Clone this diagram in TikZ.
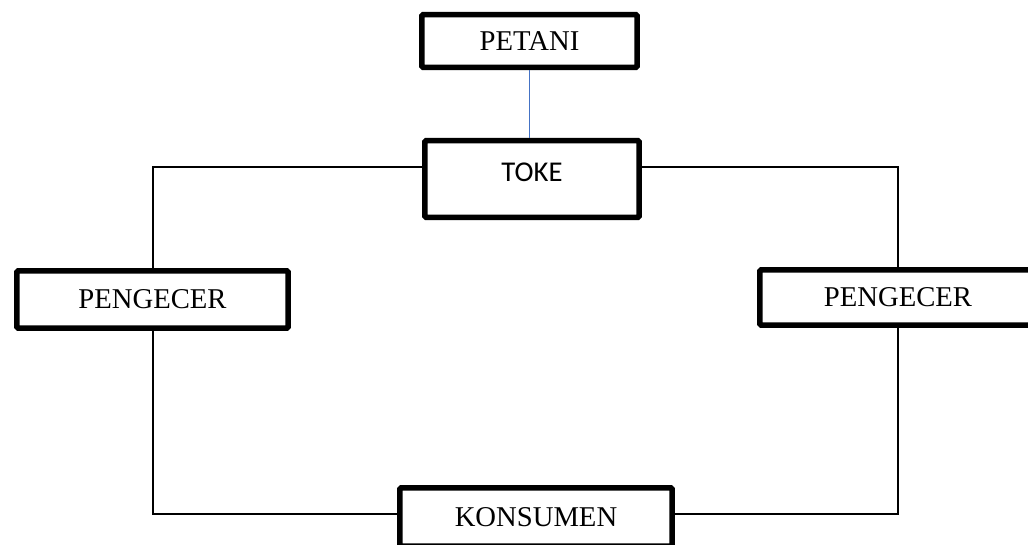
\documentclass[tikz,border=0pt]{standalone}
\usepackage{fontspec}
\setmainfont{Liberation Serif}
\newfontfamily\calibri{Carlito}
\usetikzlibrary{calc}
\definecolor{wordblue}{RGB}{68,114,196}

\begin{document}
\begin{tikzpicture}[
                x=0.75pt,y=-0.75pt,
                box/.style={draw,line width=4.2pt,rounded corners=1pt,inner sep=0pt,font=\fontsize{21.5}{24}\selectfont},
                link/.style={line width=1.5pt}
            ]
                \useasboundingbox (0,0) rectangle (1028,545);
                \node (petani) [box,minimum width=161.5pt,minimum height=39.5pt] at (529.5,41) {PETANI};
                \node (toke) [box,minimum width=160.75pt,minimum height=57.5pt,font=\calibri\fontsize{21.5}{24}\selectfont,text height=14pt,text depth=10.75pt] at (532,179) {TOKE};
                \node (pengecerL) [box,minimum width=203.5pt,minimum height=43pt] at (152.5,299.5) {PENGECER};
                \node (pengecerR) [box,minimum width=207.25pt,minimum height=41.5pt] at (898,297.5) {PENGECER};
                \node (konsumen) [box,minimum width=204.25pt,minimum height=43.75pt] at (536,517) {KONSUMEN};
                \draw [wordblue,line width=1.2pt] (petani.south) -- (petani.south |- toke.north);
                \draw [link] ([yshift=9pt]toke.west) -| (pengecerL.north);
                \draw [link] ([yshift=9pt]toke.east) -| (pengecerR.north);
                \foreach \p/\s in {pengecerL/west,pengecerR/east} {
                    \draw [link] (\p.south) |- ([yshift=2pt]konsumen.\s);
                }
            \end{tikzpicture}
\end{document}
